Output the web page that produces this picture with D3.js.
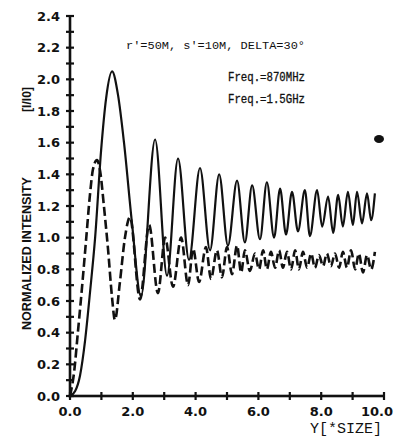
<!DOCTYPE html>
<html>
<head>
<meta charset="utf-8">
<script src="https://cdn.jsdelivr.net/npm/d3@7"></script>
<style>
  html, body { margin: 0; padding: 0; background: #fff; }
  svg { display: block; }
</style>
</head>
<body>
<div id="chart"></div>
<script>
// tick labels
const xTicks = [0, 2, 4, 6, 8, 10];
const yTicks = [0, 0.2, 0.4, 0.6, 0.8, 1.0, 1.2, 1.4, 1.6, 1.8, 2.0, 2.2, 2.4];

const titleText = "r'=50M, s'=10M, DELTA=30°";
const legendLabels = ['Freq.=870MHz', 'Freq.=1.5GHz'];

// solid curve (peaks and troughs)
const solidX = [0, 0.16, 0.32, 0.48, 0.64, 0.80, 0.99, 1.15, 1.34, 1.53, 1.72, 1.97, 2.26,
  2.71, 3.09, 3.44, 3.79, 4.14, 4.46, 4.75, 5.03, 5.32, 5.57, 5.80, 6.05, 6.27, 6.50,
  6.69, 6.88, 7.07, 7.26, 7.48, 7.64, 7.87, 8.03, 8.22, 8.38, 8.54, 8.69, 8.85, 9.01,
  9.14, 9.30, 9.46, 9.59, 9.71];
const solidY = [0, 0.03, 0.13, 0.35, 0.66, 1.0, 1.55, 1.88, 2.05, 1.9, 1.6, 1.1, 0.63,
  1.62, 0.76, 1.50, 0.86, 1.44, 0.92, 1.40, 0.95, 1.36, 0.97, 1.33, 0.99, 1.35, 1.00,
  1.31, 1.02, 1.29, 1.04, 1.30, 1.01, 1.30, 1.07, 1.26, 1.03, 1.27, 1.07, 1.29, 1.08,
  1.29, 1.09, 1.28, 1.11, 1.28];

// dashed curve
const dashX = [0, 0.13, 0.25, 0.38, 0.51, 0.64, 0.73, 0.86, 0.96, 1.08, 1.21, 1.34, 1.43,
  1.59, 1.75, 1.91, 2.23, 2.52, 2.80, 3.03, 3.28, 3.54, 3.76, 3.92, 4.11, 4.33, 4.49,
  4.68, 4.84, 5.00, 5.16, 5.32, 5.45, 5.57, 5.73, 5.89, 6.02, 6.15, 6.27, 6.40, 6.53,
  6.66, 6.78, 6.91, 7.04, 7.17, 7.29, 7.42, 7.55, 7.68, 7.80, 7.93, 8.06, 8.18, 8.31,
  8.44, 8.57, 8.69, 8.82, 8.95, 9.08, 9.20, 9.33, 9.46, 9.59, 9.71];
const dashY = [0, 0.15, 0.40, 0.68, 0.98, 1.28, 1.43, 1.49, 1.42, 1.2, 0.93, 0.62, 0.48,
  0.72, 1.0, 1.13, 0.61, 1.08, 0.65, 1.0, 0.69, 1.0, 0.70, 0.93, 0.72, 0.94, 0.74,
  0.92, 0.75, 0.94, 0.77, 0.95, 0.78, 0.92, 0.79, 0.90, 0.80, 0.92, 0.80, 0.91, 0.81,
  0.92, 0.81, 0.91, 0.80, 0.92, 0.80, 0.91, 0.81, 0.90, 0.81, 0.89, 0.82, 0.90, 0.82,
  0.90, 0.81, 0.91, 0.81, 0.92, 0.80, 0.90, 0.78, 0.89, 0.80, 0.91];

const width = 394;
const height = 437;
const margin = {top: 16, right: 10, bottom: 41, left: 70};
const ink = '#111';

const x = d3.scaleLinear().domain([0, 10]).range([margin.left, 384]);
const y = d3.scaleLinear().domain([0, 2.4]).range([height - margin.bottom, margin.top]);

const svg = d3.select('#chart').append('svg')
  .attr('width', width)
  .attr('height', height);

// Curves
const line = d3.line()
  .x(d => x(d[0]))
  .y(d => y(d[1]))
  .curve(d3.curveMonotoneX);

svg.append('path')
  .datum(solidX.map((v, i) => [v, solidY[i]]))
  .attr('fill', 'none')
  .attr('stroke', ink)
  .attr('stroke-width', 2.2)
  .attr('stroke-linejoin', 'round')
  .attr('d', line);

svg.append('path')
  .datum(dashX.map((v, i) => [v, dashY[i]]))
  .attr('fill', 'none')
  .attr('stroke', ink)
  .attr('stroke-width', 2.6)
  .attr('stroke-dasharray', '9,4')
  .attr('d', line);

// Axes as filled bars, cross ticks every 0.1 on y and every 1 on x
const yMinor = d3.range(0, 25).map(i => i / 10);
const xMinor = d3.range(0, 11);

const axes = svg.append('g').attr('fill', ink);
axes.append('rect')
  .attr('x', x(0) - 1.3).attr('y', y(2.4))
  .attr('width', 2.6).attr('height', y(0) - y(2.4) + 1.3);
axes.append('rect')
  .attr('x', x(0) - 1.3).attr('y', y(0) - 1.3)
  .attr('width', x(10) - x(0) + 1.3).attr('height', 2.6);
axes.selectAll('.ytick')
  .data(yMinor)
  .join('rect')
  .attr('class', 'ytick')
  .attr('x', x(0) - 4).attr('y', d => y(d) - 1.1)
  .attr('width', 8).attr('height', 2.2);
axes.selectAll('.xtick')
  .data(xMinor)
  .join('rect')
  .attr('class', 'xtick')
  .attr('x', d => x(d) - 1.1).attr('y', y(0) - 4)
  .attr('width', 2.2).attr('height', 8);

svg.append('g')
  .selectAll('text')
  .data(yTicks)
  .join('text')
  .attr('x', x(0) - 10)
  .attr('y', d => y(d))
  .attr('dy', '0.36em')
  .attr('text-anchor', 'end')
  .attr('font-family', 'DejaVu Sans, sans-serif')
  .attr('font-weight', 'bold')
  .attr('font-size', 13)
  .attr('fill', ink)
  .text(d => d.toFixed(1));

svg.append('g')
  .selectAll('text')
  .data(xTicks)
  .join('text')
  .attr('x', d => d === 10 ? width - 1 : x(d))
  .attr('y', y(0) + 20)
  .attr('text-anchor', d => d === 10 ? 'end' : 'middle')
  .attr('font-family', 'DejaVu Sans, sans-serif')
  .attr('font-weight', 'bold')
  .attr('font-size', 13)
  .attr('fill', ink)
  .text(d => d.toFixed(1));

// Axis titles
svg.append('text')
  .attr('x', 310)
  .attr('y', 433)
  .attr('font-family', 'Liberation Mono, monospace')
  .attr('font-size', 14)
  .attr('textLength', 72)
  .attr('lengthAdjust', 'spacingAndGlyphs')
  .attr('fill', ink)
  .text('Y[*SIZE]');

const yLab = svg.append('g').attr('transform', 'rotate(-90)');
yLab.append('text')
  .attr('x', -330)
  .attr('y', 31)
  .attr('font-family', 'Liberation Sans Narrow, Liberation Sans, sans-serif')
  .attr('font-weight', 'bold')
  .attr('font-size', 13)
  .attr('textLength', 153)
  .attr('lengthAdjust', 'spacingAndGlyphs')
  .attr('fill', ink)
  .text('NORMALIZED INTENSITY');
yLab.append('text')
  .attr('x', -112)
  .attr('y', 31)
  .attr('font-family', 'Liberation Sans Narrow, Liberation Sans, sans-serif')
  .attr('font-weight', 'bold')
  .attr('font-size', 13)
  .attr('textLength', 25)
  .attr('lengthAdjust', 'spacingAndGlyphs')
  .attr('fill', ink)
  .text('[I/I0]');

// Title and legend labels
svg.append('text')
  .attr('x', 126)
  .attr('y', 49)
  .attr('font-family', 'Liberation Mono, monospace')
  .attr('font-size', 11)
  .attr('textLength', 179)
  .attr('lengthAdjust', 'spacingAndGlyphs')
  .attr('fill', ink)
  .text(titleText);

svg.selectAll('.leg')
  .data(legendLabels)
  .join('text')
  .attr('class', 'leg')
  .attr('x', 228)
  .attr('y', (d, i) => 81 + i * 22)
  .attr('font-family', 'Liberation Mono, monospace')
  .attr('font-size', 12)
  .attr('textLength', 77)
  .attr('lengthAdjust', 'spacingAndGlyphs')
  .attr('fill', ink)
  .attr('stroke', ink)
  .attr('stroke-width', 0.3)
  .text(d => d);

// ink spot from the scan
svg.append('ellipse')
  .attr('cx', 379).attr('cy', 139)
  .attr('rx', 5).attr('ry', 4)
  .attr('fill', ink);
</script>
</body>
</html>
